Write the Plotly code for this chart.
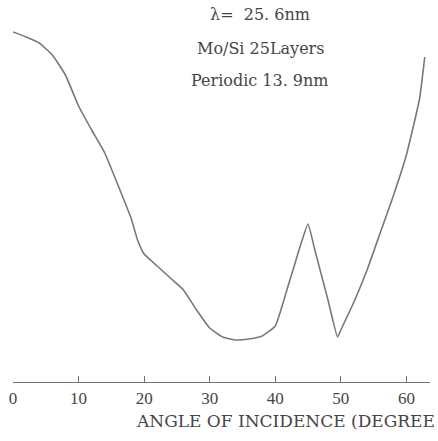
import plotly.graph_objects as go

# Reflectivity curve (arbitrary units) vs angle of incidence (degrees)
angle = [0, 2, 4, 6, 8, 10, 12, 14, 16, 18, 19, 20, 22, 24, 26, 28, 30, 32, 34, 36, 38,
         40, 42, 44, 45, 46, 48, 49.5, 50, 52, 54, 56, 58, 60, 62, 62.8]
reflect = [350, 345, 339, 327, 307, 276, 252, 229, 197, 164, 142, 128, 116, 104, 92, 72, 54,
           45, 42, 43, 46, 56, 97, 140, 158, 133, 83, 45, 52, 80, 112, 149, 186, 227, 283, 325]

tick_vals = [0, 10, 20, 30, 40, 50, 60]
tick_text = ["0", "10", "20", "30", "40", "50", "60"]

labels = ["λ=  25. 6nm", "Mo/Si 25Layers", "Periodic 13. 9nm"]
x_title = "ANGLE OF INCIDENCE (DEGREE"

W, H = 438, 441
L, R, T, B = 13, 8, 0, 59
pw, ph = W - L - R, H - T - B

def px(x):
    return (x - L) / pw

def py(y):
    return (H - B - y) / ph

serif = "Liberation Serif, DejaVu Serif, serif"
wide_serif = "DejaVu Serif, Liberation Serif, serif"
txt = "#454545"

fig = go.Figure()
fig.add_trace(go.Scatter(x=angle, y=reflect, mode="lines",
                         line=dict(color="#787878", width=1.6, shape="spline", smoothing=0.4),
                         hoverinfo="skip", showlegend=False))

fig.update_layout(
    width=W, height=H,
    margin=dict(l=L, r=R, t=T, b=B),
    paper_bgcolor="white", plot_bgcolor="white",
    xaxis=dict(range=[0, 63.6], tickvals=tick_vals, ticktext=tick_text,
               showline=True, linecolor="#707070", linewidth=1.3,
               ticks="inside", ticklen=6, tickcolor="#707070", tickwidth=1.2,
               showgrid=False, zeroline=False,
               tickfont=dict(family=serif, size=17, color=txt)),
    yaxis=dict(range=[0, 382], visible=False, showgrid=False, zeroline=False),
)

ann_y = [15, 48, 81]
for t, yy in zip(labels, ann_y):
    fig.add_annotation(text=t, xref="paper", yref="paper", x=px(260), y=py(yy),
                       xanchor="center", yanchor="middle", showarrow=False,
                       font=dict(family=wide_serif, size=16, color=txt))

fig.add_annotation(text=x_title, xref="paper", yref="paper", x=px(437), y=py(421),
                   xanchor="right", yanchor="middle", showarrow=False,
                   font=dict(family=wide_serif, size=17, color=txt))

fig.write_html("out.html")
